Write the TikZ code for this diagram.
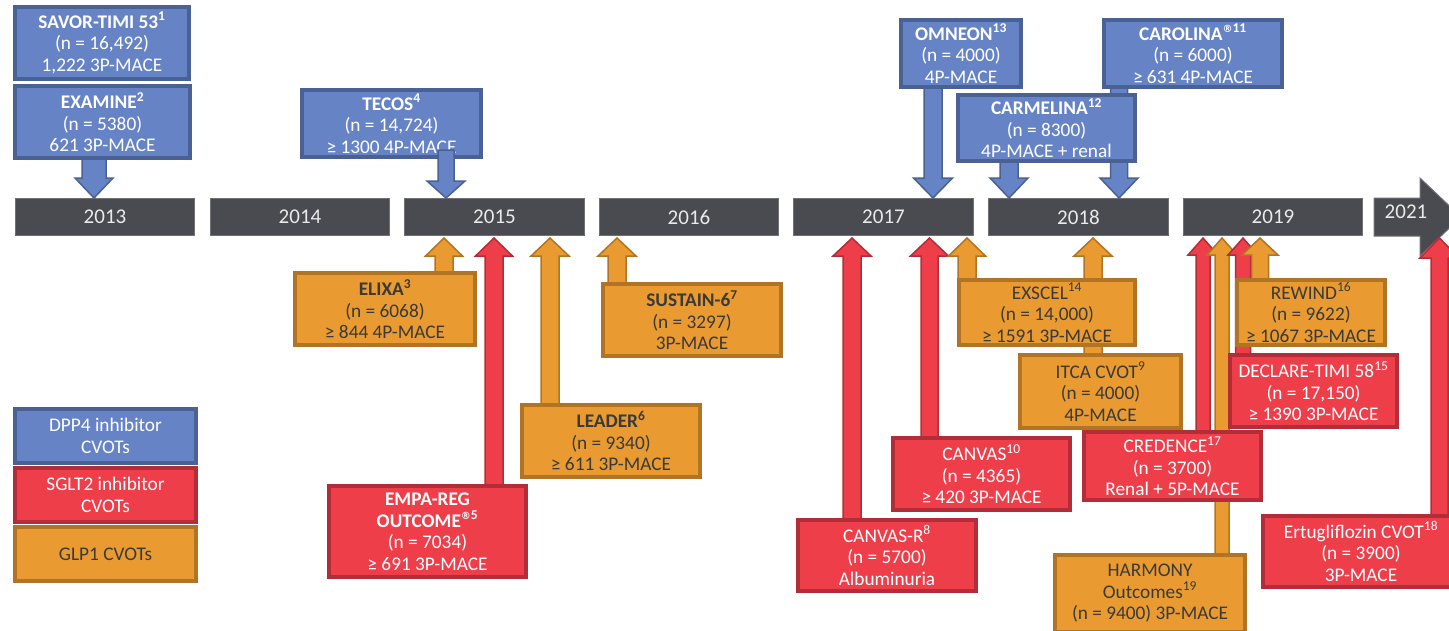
\documentclass[tikz,border=0pt]{standalone}
\usepackage{fontspec}
\setmainfont{Carlito}
\newfontfamily\dejavu{DejaVu Sans}
\usetikzlibrary{calc}
\pgfdeclarelayer{yr}
\pgfdeclarelayer{arr}
\pgfsetlayers{yr,arr,main}
\definecolor{bfill}{HTML}{6684C5}
\definecolor{bline}{HTML}{4A6194}
\definecolor{rfill}{HTML}{EE3E4A}
\definecolor{rline}{HTML}{B22D38}
\definecolor{ofill}{HTML}{E99A31}
\definecolor{oline}{HTML}{B07424}
\definecolor{gfill}{HTML}{4A4B50}
\definecolor{gline}{HTML}{707074}
\definecolor{otext}{HTML}{3A3A3A}
\definecolor{ytext}{HTML}{EAEAEA}
\newcommand\bx[7]{%
 \pgfmathsetmacro\cx{(#3+#5)/2}%
 \pgfmathsetmacro\cy{(#4+#6)/2}%
 \pgfmathsetmacro\ww{#5-#3-4}%
 \pgfmathsetmacro\hh{#6-#4-4}%
 \node[#1, minimum width=\ww pt, minimum height=\hh pt] (#2) at (\cx,\cy) {#7};}
\newcommand\yr[4]{%
 \pgfmathsetmacro\cx{(#2+#3)/2}%
 \pgfmathsetmacro\ww{#3-#2-1}%
 \node[yearbar, minimum width=\ww pt] (#1) at (\cx,217) {#4};}
\newcommand\UpArr[7]{%
 \draw[#1] let \p1=(#2,0 |- #3), \p2=(#2,0 |- #4) in
  (\x1-#5pt,\y1) -- (\x1-#5pt,\y2-2pt-#7pt) -- (\x1-#6pt,\y2-2pt-#7pt) -- (\x1,\y2-2pt)
  -- (\x1+#6pt,\y2-2pt-#7pt) -- (\x1+#5pt,\y2-2pt-#7pt) -- (\x1+#5pt,\y1) -- cycle;}
\newcommand\DnArr[7]{%
 \draw[#1] let \p1=(#2,0 |- #3), \p2=(#2,0 |- #4) in
  (\x1-#5pt,\y1) -- (\x1-#5pt,\y2+#7pt) -- (\x1-#6pt,\y2+#7pt) -- (\x1,\y2)
  -- (\x1+#6pt,\y2+#7pt) -- (\x1+#5pt,\y2+#7pt) -- (\x1+#5pt,\y1) -- cycle;}
\newcommand\regsup[1]{\textsuperscript{{\dejavu\fontsize{10}{10}\selectfont ®}#1}}
\begin{document}
\begin{tikzpicture}[x=1pt,y=-1pt,
 cvbox/.style={rectangle, line width=4pt, inner sep=0pt, align=center, font=\fontsize{19.3}{21.5}\selectfont},
 bluebox/.style={cvbox, fill=bfill, draw=bline, text=white},
 redbox/.style={cvbox, fill=rfill, draw=rline, text=white},
 orabox/.style={cvbox, fill=ofill, draw=oline, text=otext},
 yearbar/.style={rectangle, fill=gfill, draw=gline, line width=1pt, minimum height=37pt, inner sep=0pt, text=ytext, font=\fontsize{21}{24}\selectfont},
 barrow/.style={line width=1.5pt, line join=miter},
 bluearr/.style={barrow, fill=bfill, draw=bline},
 redarr/.style={barrow, fill=rfill, draw=rline},
 oraarr/.style={barrow, fill=ofill, draw=oline}]
\useasboundingbox (0,0) rectangle (1449,630);
\clip (0,0) rectangle (1449,630);

\begin{pgfonlayer}{yr}
\yr{y2013}{15}{195}{2013}
\yr{y2014}{210}{390}{2014}
\yr{y2015}{404}{585}{2015}
\yr{y2016}{599}{779}{2016}
\yr{y2017}{793}{974}{2017}
\yr{y2018}{988}{1169}{2018}
\yr{y2019}{1183}{1363}{2019}
\draw[fill=gfill, draw=gline, line width=1pt] (1374,198) -- (1420,198) -- (1420,178) -- (1461,217) -- (1420,256) -- (1420,236) -- (1374,236) -- cycle;
\node[text=ytext, font=\fontsize{21}{24}\selectfont] (y2021) at (1406,212) {2021};
\coordinate (y2021s) at (1439.5,236);
\end{pgfonlayer}

% DPP4 inhibitor boxes
\bx{bluebox}{savor}{13}{5}{191}{81}{\textbf{SAVOR-TIMI 53\textsuperscript{1}}\\(n = 16,492)\\1,222 3P-MACE}
\bx{bluebox}{examine}{13}{84}{192}{160}{\textbf{EXAMINE\textsuperscript{2}}\\(n = 5380)\\621 3P-MACE}
\bx{bluebox}{tecos}{300}{88}{483}{159}{\textbf{TECOS\textsuperscript{4}}\\(n = 14,724)\\≥ 1300 4P-MACE}
\bx{bluebox}{omneon}{899}{18}{1023}{89}{\textbf{OMNEON\textsuperscript{13}}\\(n = 4000)\\4P-MACE}
\bx{bluebox}{carolina}{1102}{18}{1284}{89}{\textbf{CAROLINA\regsup{11}}\\(n = 6000)\\≥ 631 4P-MACE}
\bx{bluebox}{carmelina}{956}{93}{1137}{163}{\textbf{CARMELINA\textsuperscript{12}}\\(n = 8300)\\4P-MACE + renal}

% GLP1 boxes
\bx{orabox}{elixa}{293}{271}{477}{347}{\textbf{ELIXA\textsuperscript{3}}\\(n = 6068)\\≥ 844 4P-MACE}
\bx{orabox}{leader}{520}{403}{702}{479}{\textbf{LEADER\textsuperscript{6}}\\(n = 9340)\\≥ 611 3P-MACE}
\bx{orabox}{sustain}{601}{282}{783}{358}{\textbf{SUSTAIN-6\textsuperscript{7}}\\(n = 3297)\\3P-MACE}
\bx{orabox}{exscel}{957}{278}{1137}{347}{EXSCEL\textsuperscript{14}\\(n = 14,000)\\≥ 1591 3P-MACE}
\bx{orabox}{itca}{1018}{353}{1183}{430}{ITCA CVOT\textsuperscript{9}\\(n = 4000)\\4P-MACE}
\bx{orabox}{rewind}{1235}{278}{1387}{347}{REWIND\textsuperscript{16}\\(n = 9622)\\≥ 1067 3P-MACE}
\bx{orabox}{harmony}{1053}{553}{1247}{634}{HARMONY\\Outcomes\textsuperscript{19}\\(n = 9400) 3P-MACE}

% SGLT2 inhibitor boxes
\bx{redbox}{empa}{327}{484}{528}{579}{\textbf{EMPA-REG}\\\textbf{OUTCOME\regsup{5}}\\(n = 7034)\\≥ 691 3P-MACE}
\bx{redbox}{canvasr}{796}{518}{978}{593}{CANVAS-R\textsuperscript{8}\\(n = 5700)\\Albuminuria}
\bx{redbox}{canvas}{891}{436}{1072}{512}{CANVAS\textsuperscript{10}\\(n = 4365)\\≥ 420 3P-MACE}
\bx{redbox}{credence}{1082}{430}{1263}{502}{CREDENCE\textsuperscript{17}\\(n = 3700)\\Renal + 5P-MACE}
\bx{redbox}{declare}{1228}{353}{1399}{429}{DECLARE-TIMI 58\textsuperscript{15}\\(n = 17,150)\\≥ 1390 3P-MACE}
\bx{redbox}{ertu}{1261}{514}{1461}{589}{Ertugliflozin CVOT\textsuperscript{18}\\(n = 3900)\\3P-MACE}

% legend
\bx{bluebox}{legdpp}{13}{407}{198}{465}{DPP4 inhibitor\\CVOTs}
\bx{redbox}{legsglt}{13}{466}{198}{524}{SGLT2 inhibitor\\CVOTs}
\bx{orabox}{legglp}{13}{525}{198}{583}{GLP1 CVOTs}

\begin{pgfonlayer}{arr}
\DnArr{bluearr}{94}{examine.center}{y2013.north}{12}{19}{20}
\DnArr{bluearr}{933}{omneon.center}{y2017.north}{9}{19.5}{20}
\DnArr{bluearr}{1119}{carolina.center}{y2018.north}{8.5}{19}{20}
\DnArr{bluearr}{1009}{carmelina.center}{y2018.north}{9}{19}{20}
\UpArr{oraarr}{444}{elixa.center}{y2015.south}{9}{18.5}{18}
\UpArr{redarr}{494}{empa.center}{y2015.south}{9}{18.5}{18}
\UpArr{oraarr}{550}{leader.center}{y2015.south}{9}{19}{18}
\UpArr{oraarr}{617}{sustain.center}{y2016.south}{9}{19}{18}
\UpArr{redarr}{852}{canvasr.center}{y2017.south}{9}{19}{18}
\UpArr{redarr}{929.5}{canvas.center}{y2017.south}{8.5}{19}{18}
\UpArr{oraarr}{967}{exscel.center}{y2017.south}{9}{18.5}{18}
\UpArr{oraarr}{1093}{itca.center}{y2018.south}{9}{19}{18}
\UpArr{redarr}{1203}{credence.center}{y2019.south}{7}{15}{17}
\UpArr{oraarr}{1222}{harmony.center}{y2019.south}{7}{15}{17}
\UpArr{redarr}{1243}{declare.center}{y2019.south}{7.5}{15}{17}
\UpArr{oraarr}{1260}{rewind.center}{y2019.south}{8.5}{18}{17}
\UpArr{redarr}{1439.5}{ertu.center}{y2021s}{8.5}{19.5}{20}
\end{pgfonlayer}

\coordinate (tecosA) at ([yshift=9pt]tecos.south);
\DnArr{bluearr}{446}{tecosA}{y2015.north}{8}{19}{17}
\end{tikzpicture}
\end{document}
